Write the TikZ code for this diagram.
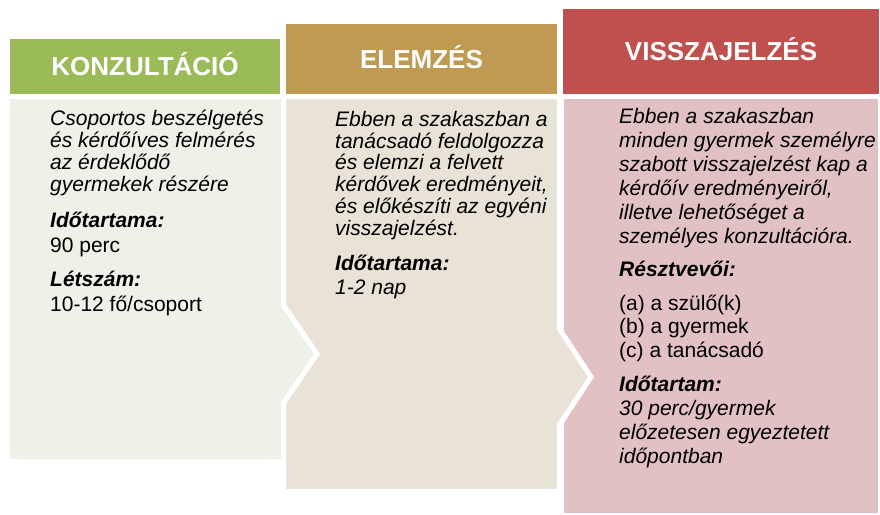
\documentclass[tikz,border=0pt]{standalone}
\usepackage{fontspec}
\setmainfont{Liberation Sans}
\usetikzlibrary{positioning}
\definecolor{kGreen}{HTML}{9BBB59}
\definecolor{kGreenLight}{HTML}{EFF1E9}
\definecolor{eTan}{HTML}{BE9A52}
\definecolor{eTanLight}{HTML}{E9E3D7}
\definecolor{vRed}{HTML}{C0504D}
\definecolor{vRedLight}{HTML}{E2C1C4}
\tikzset{
    header/.style={text=white, font=\fontsize{26}{30}\selectfont\bfseries,
        inner sep=0pt, text height=18.6pt, text depth=0pt},
    panel/.style={draw=white, line width=5pt, line join=miter},
    % multi-line nodes sit on the baseline of their last line
    desc/.style={anchor=base west, align=left, inner sep=0pt,
        font=\fontsize{21}{21.7}\selectfont\itshape},
    bodytext/.style={anchor=base west, align=left, inner sep=0pt,
        font=\fontsize{21}{23.5}\selectfont},
    subhead/.style={anchor=base west, inner sep=0pt,
        font=\fontsize{21}{24}\selectfont\bfseries\itshape},
}

\begin{document}
\begin{tikzpicture}[x=1pt, y=-1pt]
	\useasboundingbox (0,0) rectangle (880,514);
	% panels, back to front
	\fill[vRedLight, panel] (561.5,96.5) -- (880.5,96.5) -- (880.5,515.5) -- (561.5,515.5) -- cycle;
	\fill[eTanLight, panel] (283.5,96.5) -- (559.5,96.5) -- (559.5,329) -- (591,377)
		-- (559.5,425) -- (559.5,491.5) -- (283.5,491.5) -- cycle;
	\fill[kGreenLight, panel] (7.5,96.5) -- (283.5,96.5) -- (283.5,305) -- (317,354)
		-- (283.5,403) -- (283.5,461.5) -- (7.5,461.5) -- cycle;
	% headers
	\node[header, fill=kGreen, minimum width=270pt, minimum height=55pt] (kHead) at (145,66.5) {KONZULTÁCIÓ};
	\node[header, fill=eTan, minimum width=271pt, minimum height=70pt] (eHead) at (421.5,59) {ELEMZÉS};
	\node[header, fill=vRed, minimum width=316pt, minimum height=85pt] (vHead) at (721,51.5) {VISSZAJELZÉS};
	% konzultacio
	\node[desc] (kDesc) at (50,191) {Csoportos beszélgetés\\és kérdőíves felmérés\\az érdeklődő\\gyermekek részére};
	\node[subhead] (kTimeHead) at (50,227) {Időtartama:};
	\node[bodytext] (kTime) at (50,252) {90 perc};
	\node[subhead] (kSizeHead) at (50,286) {Létszám:};
	\node[bodytext] (kSize) at (50,311) {10-12 fő/csoport};
	% elemzes
	\node[desc] (eDesc) at (335,235) {Ebben a szakaszban a\\tanácsadó feldolgozza\\és elemzi a felvett\\kérdővek eredményeit,\\és előkészíti az egyéni\\visszajelzést.};
	\node[subhead] (eTimeHead) at (335,270) {Időtartama:};
	\node[desc] (eTime) at (335,294) {1-2 nap};
	% visszajelzes
	\node[desc, font=\fontsize{21}{24}\selectfont\itshape] (vDesc) at (619,243) {Ebben a szakaszban\\minden gyermek személyre\\szabott visszajelzést kap a\\kérdőív eredményeiről,\\illetve lehetőséget a\\személyes konzultációra.};
	\node[subhead] (vWhoHead) at (619,276) {Résztvevői:};
	\node[bodytext] (vWho) at (619,357) {(a) a szülő(k)\\(b) a gyermek\\(c) a tanácsadó};
	\node[subhead] (vTimeHead) at (619,391) {Időtartam:};
	\node[desc, font=\fontsize{21}{24}\selectfont\itshape] (vTime) at (619,463.5) {30 perc/gyermek\\előzetesen egyeztetett\\időpontban};
\end{tikzpicture}
\end{document}
